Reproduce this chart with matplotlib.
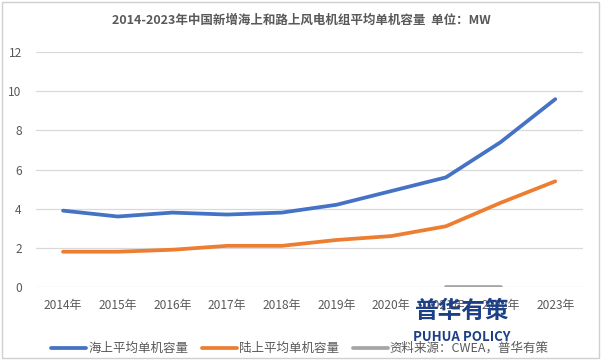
import numpy as np
import matplotlib
matplotlib.use("Agg")
import matplotlib.pyplot as plt
from matplotlib.patches import Rectangle

plt.rcParams['font.family'] = ['Noto Sans CJK SC', 'DejaVu Sans']

# 数据
years = ['2014年', '2015年', '2016年', '2017年', '2018年',
         '2019年', '2020年', '2021年', '2022年', '2023年']
offshore = [3.9, 3.6, 3.8, 3.7, 3.8, 4.2, 4.9, 5.6, 7.4, 9.6]
onshore = [1.8, 1.8, 1.9, 2.1, 2.1, 2.4, 2.6, 3.1, 4.3, 5.4]
source = [np.nan] * 7 + [0, 0, np.nan]
y_ticks = [0, 2, 4, 6, 8, 10, 12]

title = '2014-2023年中国新增海上和路上风电机组平均单机容量  单位：MW'
names = ['海上平均单机容量', '陆上平均单机容量', '资料来源：CWEA，普华有策']
colors = ['#4472C4', '#ED7D31', '#A5A5A5']

fig = plt.figure(figsize=(6.01, 3.6), dpi=100)
ax = fig.add_axes([0.0594, 0.203, 0.910, 0.652])

x = np.arange(len(years))
for vals, name, c in zip([offshore, onshore, source], names, colors):
    ax.plot(x, vals, color=c, lw=2.7, label=name, solid_capstyle='round')

ax.set_xlim(-0.5, len(years) - 0.5)
ax.set_ylim(0, 12)
ax.set_yticks(y_ticks)
ax.set_xticks(x)
ax.set_xticklabels(years)
ax.grid(axis='y', color='#d9d9d9', lw=0.9)
ax.set_axisbelow(True)
for s in ax.spines.values():
    s.set_visible(False)
ax.tick_params(length=0, labelsize=8.6, labelcolor='#595959')
ax.tick_params(axis='x', pad=9)
ax.tick_params(axis='y', pad=10)

fig.text(0.502, 0.944, title, ha='center', va='center', fontsize=9,
         color='#595959', fontweight='bold')

ax.legend(loc='center', bbox_to_anchor=(0.483, -0.262), ncol=3,
          frameon=False, fontsize=9.0, labelcolor='#595959',
          handlelength=2.8, handletextpad=0.15, columnspacing=1.1)

# 水印
fig.text(0.769, 0.136, '普华有策', ha='center', va='center', fontsize=17,
         color='#1c3f85', fontweight='bold')
fig.text(0.769, 0.064, 'PUHUA POLICY', ha='center', va='center', fontsize=9.5,
         color='#1c3f85', fontweight='bold')

# 外框
fig.patches.append(Rectangle((0.003, 0.005), 0.994, 0.99, transform=fig.transFigure,
                             fill=False, edgecolor='#d0d0d0', lw=1))

fig.savefig('out.png', dpi=100)
